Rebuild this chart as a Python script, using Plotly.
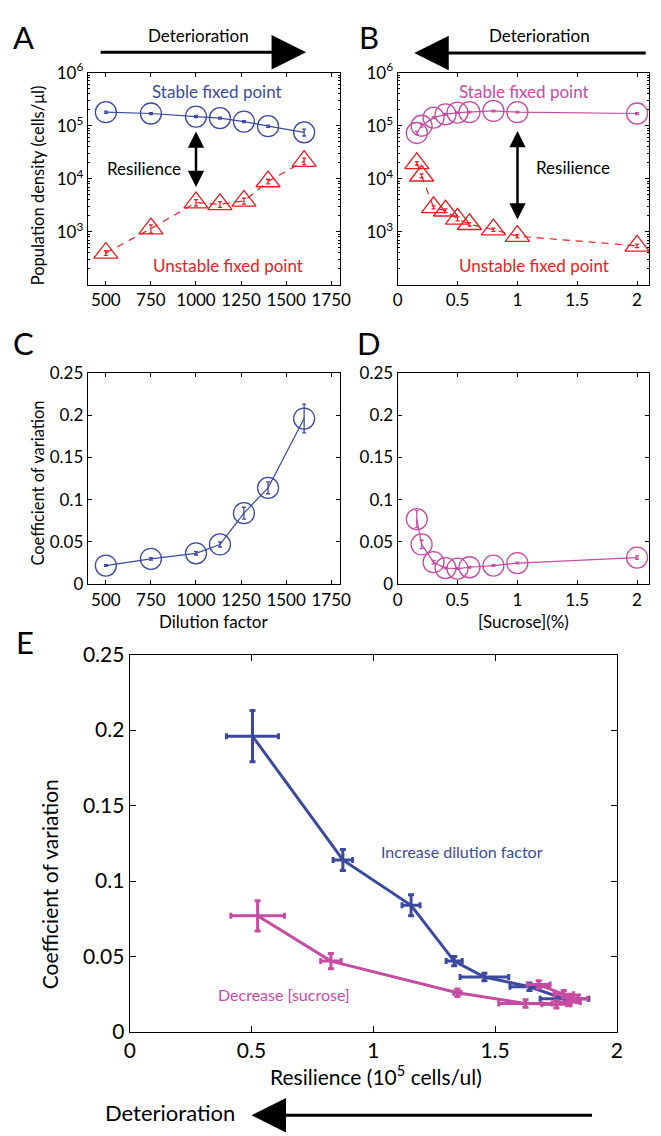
import plotly.graph_objects as go

# ---------------- data ----------------
dilution = [500, 750, 1000, 1133, 1266, 1400, 1600]
stable_dil = [1.8e5, 1.7e5, 1.49e5, 1.39e5, 1.2e5, 9.8e4, 7.5e4]
stable_dil_err = [8e3, 7e3, 7e3, 6e3, 5e3, 5e3, 1.1e4]
unstable_dil = [400, 1150, 3560, 3300, 3830, 8900, 21500]
unstable_dil_err = [40, 200, 500, 400, 500, 900, 3000]

sucrose = [0.16, 0.2, 0.3, 0.4, 0.5, 0.6, 0.8, 1.0, 2.0]
stable_suc = [7.3e4, 1.0e5, 1.42e5, 1.64e5, 1.77e5, 1.8e5, 1.9e5, 1.8e5, 1.7e5]
stable_suc_err = [5e3, 6e3, 6e3, 6e3, 6e3, 6e3, 7e3, 6e3, 7e3]
unstable_suc = [1.96e4, 1.14e4, 2.9e3, 2.5e3, 1.76e3, 1.39e3, 1.1e3, 830, 545]
unstable_suc_err = [1500, 1000, 200, 200, 150, 100, 80, 60, 40]

cv_dil = [0.022, 0.030, 0.0365, 0.047, 0.084, 0.114, 0.196]
cv_dil_err = [0.001, 0.0015, 0.002, 0.003, 0.007, 0.007, 0.017]
cv_suc = [0.077, 0.047, 0.026, 0.019, 0.0185, 0.020, 0.022, 0.025, 0.0315]
cv_suc_err = [0.010, 0.005, 0.002, 0.001, 0.001, 0.001, 0.001, 0.001, 0.002]

res_dil = [1.785, 1.641, 1.456, 1.332, 1.155, 0.875, 0.504]
res_dil_err = [0.10, 0.08, 0.10, 0.033, 0.037, 0.04, 0.107]
res_suc = [0.525, 0.826, 1.345, 1.625, 1.752, 1.80, 1.84, 1.782, 1.679]
res_suc_err = [0.11, 0.042, 0.015, 0.11, 0.06, 0.05, 0.04, 0.04, 0.047]

dil_ticks = [500, 750, 1000, 1250, 1500, 1750]
suc_ticks = [0, 0.5, 1, 1.5, 2]
cv_ticks = [0, 0.05, 0.1, 0.15, 0.2, 0.25]
log_ticks = [1e3, 1e4, 1e5, 1e6]
log_ticktext = ["10<sup>3</sup>", "10<sup>4</sup>", "10<sup>5</sup>", "10<sup>6</sup>"]
res_ticks = [0, 0.5, 1, 1.5, 2]

# ---------------- style ----------------
BLUE = "#3b4a9e"
MAG = "#c54ca2"
RED = "#e81c22"
FONT = "Lato"
W, H = 661, 1136


def px(x):
    return x / W


def py(y):
    return 1 - y / H


fig = go.Figure()


def open_series(x, y, err, color, symbol, dash, xa, ya):
    fig.add_trace(go.Scatter(x=x, y=y, mode="lines+markers",
                             line=dict(color=color, width=1.2, dash=dash),
                             marker=dict(symbol=symbol, size=21, color=color, line=dict(width=1.3, color=color)),
                             error_y=dict(type="data", array=err, color=color, thickness=1.3, width=2),
                             xaxis=xa, yaxis=ya))


open_series(dilution, stable_dil, stable_dil_err, BLUE, "circle-open", "solid", "x", "y")
open_series(dilution, unstable_dil, unstable_dil_err, RED, "triangle-up-open", "7px,6px", "x", "y")
open_series(sucrose, stable_suc, stable_suc_err, MAG, "circle-open", "solid", "x2", "y2")
open_series(sucrose, unstable_suc, unstable_suc_err, RED, "triangle-up-open", "7px,6px", "x2", "y2")
open_series(dilution, cv_dil, cv_dil_err, BLUE, "circle-open", "solid", "x3", "y3")
open_series(sucrose, cv_suc, cv_suc_err, MAG, "circle-open", "solid", "x4", "y4")

# Panel E
fig.add_trace(go.Scatter(x=res_dil, y=cv_dil, mode="lines",
                         line=dict(color=BLUE, width=3),
                         error_x=dict(type="data", array=res_dil_err, color=BLUE, thickness=3, width=3),
                         error_y=dict(type="data", array=[max(e, 0.0025) for e in cv_dil_err], color=BLUE, thickness=3, width=3),
                         xaxis="x5", yaxis="y5"))
fig.add_trace(go.Scatter(x=res_suc, y=cv_suc, mode="lines",
                         line=dict(color=MAG, width=3),
                         error_x=dict(type="data", array=res_suc_err, color=MAG, thickness=3, width=3),
                         error_y=dict(type="data", array=[max(e, 0.0025) for e in cv_suc_err], color=MAG, thickness=3, width=3),
                         xaxis="x5", yaxis="y5"))

axis_common = dict(showline=True, linecolor="black", linewidth=1.3, mirror="allticks",
                   ticks="inside", ticklen=4, tickcolor="black", showgrid=False, zeroline=False,
                   tickfont=dict(family=FONT, size=17, color="black"))
big = {**axis_common, "tickfont": dict(family=FONT, size=21, color="black"), "ticklen": 6}
log_minor = dict(ticks="inside", ticklen=2, tickcolor="black", dtick="D1", showgrid=False)

fig.update_layout(
    width=W, height=H, margin=dict(l=0, r=0, t=0, b=0),
    paper_bgcolor="white", plot_bgcolor="white", showlegend=False,
    font=dict(family=FONT, color="black"),
    xaxis=dict(domain=[px(84), px(343)], range=[400, 1800], tickvals=dil_ticks, anchor="y", **axis_common),
    yaxis=dict(domain=[py(277), py(60)], type="log", range=[2, 6], tickvals=log_ticks, ticktext=log_ticktext,
               anchor="x", minor=log_minor, **axis_common),
    xaxis2=dict(domain=[px(402), px(660)], range=[0, 2.1], tickvals=suc_ticks, anchor="y2", **axis_common),
    yaxis2=dict(domain=[py(277), py(60)], type="log", range=[2, 6], tickvals=log_ticks, ticktext=log_ticktext,
                anchor="x2", minor=log_minor, **axis_common),
    xaxis3=dict(domain=[px(84), px(343)], range=[400, 1800], tickvals=dil_ticks, anchor="y3", **axis_common),
    yaxis3=dict(domain=[py(583), py(367)], range=[0, 0.25], tickvals=cv_ticks, anchor="x3", **axis_common),
    xaxis4=dict(domain=[px(402), px(660)], range=[0, 2.1], tickvals=suc_ticks, anchor="y4", **axis_common),
    yaxis4=dict(domain=[py(583), py(367)], range=[0, 0.25], tickvals=cv_ticks, anchor="x4", **axis_common),
    xaxis5=dict(domain=[px(127), px(627)], range=[0, 2], tickvals=res_ticks, anchor="y5", **big),
    yaxis5=dict(domain=[py(1041), py(655)], range=[0, 0.25], tickvals=cv_ticks, anchor="x5", **big),
)

ann = []


def text(x, y, s, size=16, color="black", angle=0, xanchor="center"):
    ann.append(dict(x=px(x), y=py(y), xref="paper", yref="paper", text=s, showarrow=False,
                    font=dict(family=FONT, size=size, color=color), textangle=angle,
                    xanchor=xanchor, yanchor="middle"))


def arrow(x0, y0, x1, y1, width=3, size=2.0, both=False):
    ann.append(dict(x=px(x1), y=py(y1), xref="paper", yref="paper", ax=x0 - x1, ay=y0 - y1,
                    axref="pixel", ayref="pixel", text="", showarrow=True, arrowhead=2,
                    arrowside="end+start" if both else "end", startarrowhead=2,
                    arrowwidth=width, arrowsize=size, startarrowsize=size, arrowcolor="black",
                    standoff=0, startstandoff=0))


# panel letters
text(18, 24, "A", size=31)
text(373, 24, "B", size=31)
text(18, 336, "C", size=31)
text(373, 336, "D", size=31)
text(20, 642, "E", size=31)

# deterioration arrows
text(198, 22, "Deterioration", size=17)
arrow(101, 39, 308, 39, width=3, size=2.3)
text(548, 22, "Deterioration", size=17)
arrow(652, 40, 419, 40, width=3, size=2.3)
text(168, 1123, "Deterioration", size=22)
arrow(594, 1126, 252, 1126, width=3, size=2.3)

# panel A/B labels
text(217, 79, "Stable fixed point", size=17, color=BLUE)
text(228, 257, "Unstable fixed point", size=17, color=RED)
text(142, 158, "Resilience", size=17)
arrow(195, 120, 195, 177, width=2.5, size=1.3, both=True)
text(532, 79, "Stable fixed point", size=17, color=MAG)
text(542, 257, "Unstable fixed point", size=17, color=RED)
text(582, 157, "Resilience", size=17)
arrow(525, 120, 525, 210, width=2.5, size=1.3, both=True)

# axis titles
text(33, 175, "Population density (cells/μl)", size=16.5, angle=-90)
text(33, 480, "Coefficient of variation", size=16.5, angle=-90)
text(213, 621, "Dilution factor", size=17)
text(531, 621, "[Sucrose](%)", size=17)
text(45, 890, "Coefficient of variation", size=21, angle=-90)
text(380, 1085, "Resilience (10<sup>5</sup> cells/ul)", size=21)

# panel E labels
text(468, 856, "Increase dilution factor", size=16, color=BLUE)
text(285, 1003, "Decrease [sucrose]", size=16, color=MAG)

fig.update_layout(annotations=ann)
fig.write_html("out.html", config={"displayModeBar": False},
               post_script="document.body.style.margin='0';")
